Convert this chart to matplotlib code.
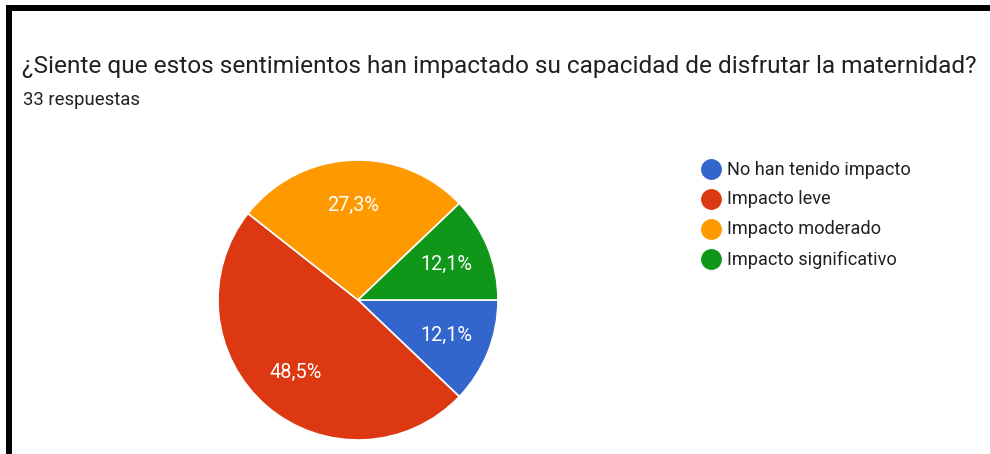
import matplotlib
matplotlib.use("Agg")
import matplotlib.pyplot as plt
from matplotlib.lines import Line2D
from matplotlib.patches import Rectangle

title = "¿Siente que estos sentimientos han impactado su capacidad de disfrutar la maternidad?"
subtitle = "33 respuestas"
categories = ["No han tenido impacto", "Impacto leve", "Impacto moderado", "Impacto significativo"]
counts = [4, 16, 9, 4]
colors = ["#3366cc", "#dc3912", "#ff9900", "#109618"]

plt.rcParams['font.family'] = ['Roboto', 'DejaVu Sans']

W, H = 990, 454
fig = plt.figure(figsize=(W / 100, H / 100), dpi=100)
fig.patch.set_facecolor("white")

# Black frame (left and top)
fig.add_artist(Rectangle((6 / W, 0), 6 / W, (H - 5) / H, transform=fig.transFigure,
                         facecolor="black", edgecolor="none"))
fig.add_artist(Rectangle((6 / W, (H - 11) / H), (W - 6) / W, 6 / H, transform=fig.transFigure,
                         facecolor="black", edgecolor="none"))

fig.text(22 / W, 1 - 67 / H, title, fontsize=17.6, color="#202124", va="center", ha="left")
fig.text(23 / W, 1 - 100 / H, subtitle, fontsize=13.3, color="#202124", va="center", ha="left")

cx, cy, r = 358, 300, 140
ax = fig.add_axes([(cx - r) / W, 1 - (cy + r) / H, 2 * r / W, 2 * r / H])
wedges, texts, autotexts = ax.pie(
    counts, colors=colors, startangle=0, counterclock=False,
    autopct=lambda p: f"{p:.1f}".replace(".", ","),
    pctdistance=0.68, radius=1.0,
    wedgeprops=dict(edgecolor="white", linewidth=1.2),
    textprops=dict(color="white", fontsize=14.3))
for t in autotexts:
    t.set_text(t.get_text() + "%")
ax.set_xlim(-1, 1)
ax.set_ylim(-1, 1)
ax.set_aspect("equal")
ax.axis("off")

# Legend
for i, (lab, col) in enumerate(zip(categories, colors)):
    y = 169 + 30 * i
    fig.add_artist(Line2D([711 / W], [1 - y / H], marker="o", markersize=14,
                          color=col, linestyle="none", transform=fig.transFigure))
    fig.text(727 / W, 1 - (y + 0.5) / H, lab, fontsize=13.1, color="#202124", va="center", ha="left")

fig.savefig("out.png", dpi=100, facecolor="white")
